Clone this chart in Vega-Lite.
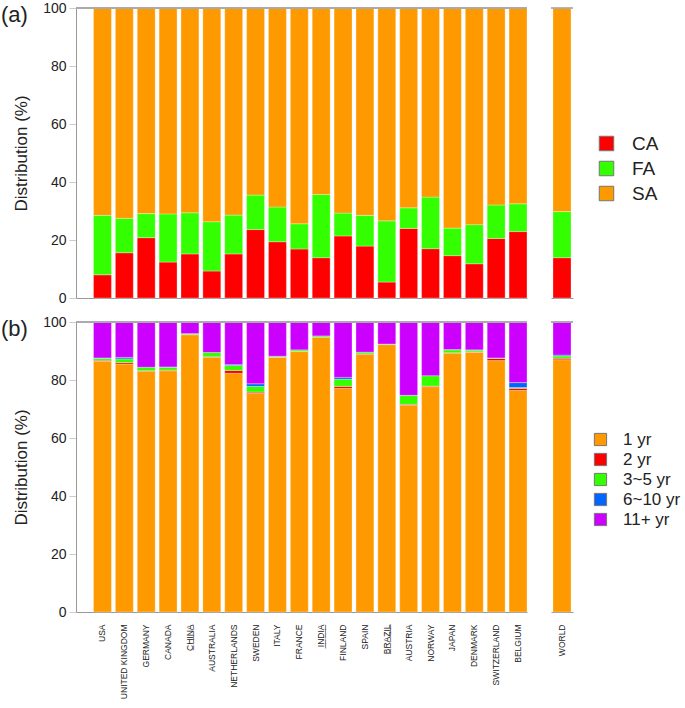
{
  "$schema": "https://vega.github.io/schema/vega-lite/v6.json",
  "padding": {"left": 1, "top": 1, "right": 2, "bottom": 2},
  "config": {
    "font": "Liberation Sans",
    "view": {"stroke": null},
    "axis": {"domainColor": "#999999", "tickColor": "#cccccc", "labelColor": "#222222", "titleColor": "#222222", "grid": false},
    "legend": {"labelColor": "#222222"}
  },
  "datasets": {
    "ranks": [
      {"years": "1 yr", "k": 1}, {"years": "2 yr", "k": 2}, {"years": "3~5 yr", "k": 3}, {"years": "6~10 yr", "k": 4}, {"years": "11+ yr", "k": 5}
    ],
    "a": [
      {"country": "USA", "type": "CA", "value": 8.0}, {"country": "USA", "type": "FA", "value": 20.5}, {"country": "USA", "type": "SA", "value": 71.5},
      {"country": "UNITED KINGDOM", "type": "CA", "value": 15.6}, {"country": "UNITED KINGDOM", "type": "FA", "value": 11.9}, {"country": "UNITED KINGDOM", "type": "SA", "value": 72.5},
      {"country": "GERMANY", "type": "CA", "value": 20.8}, {"country": "GERMANY", "type": "FA", "value": 8.3}, {"country": "GERMANY", "type": "SA", "value": 70.9},
      {"country": "CANADA", "type": "CA", "value": 12.4}, {"country": "CANADA", "type": "FA", "value": 16.6}, {"country": "CANADA", "type": "SA", "value": 71.0},
      {"country": "CHINA", "type": "CA", "value": 15.2}, {"country": "CHINA", "type": "FA", "value": 14.2}, {"country": "CHINA", "type": "SA", "value": 70.6},
      {"country": "AUSTRALIA", "type": "CA", "value": 9.3}, {"country": "AUSTRALIA", "type": "FA", "value": 17.0}, {"country": "AUSTRALIA", "type": "SA", "value": 73.7},
      {"country": "NETHERLANDS", "type": "CA", "value": 15.2}, {"country": "NETHERLANDS", "type": "FA", "value": 13.4}, {"country": "NETHERLANDS", "type": "SA", "value": 71.4},
      {"country": "SWEDEN", "type": "CA", "value": 23.6}, {"country": "SWEDEN", "type": "FA", "value": 11.9}, {"country": "SWEDEN", "type": "SA", "value": 64.5},
      {"country": "ITALY", "type": "CA", "value": 19.4}, {"country": "ITALY", "type": "FA", "value": 12.0}, {"country": "ITALY", "type": "SA", "value": 68.6},
      {"country": "FRANCE", "type": "CA", "value": 16.9}, {"country": "FRANCE", "type": "FA", "value": 8.7}, {"country": "FRANCE", "type": "SA", "value": 74.4},
      {"country": "INDIA", "type": "CA", "value": 13.9}, {"country": "INDIA", "type": "FA", "value": 21.8}, {"country": "INDIA", "type": "SA", "value": 64.3},
      {"country": "FINLAND", "type": "CA", "value": 21.4}, {"country": "FINLAND", "type": "FA", "value": 7.9}, {"country": "FINLAND", "type": "SA", "value": 70.7},
      {"country": "SPAIN", "type": "CA", "value": 17.9}, {"country": "SPAIN", "type": "FA", "value": 10.6}, {"country": "SPAIN", "type": "SA", "value": 71.5},
      {"country": "BRAZIL", "type": "CA", "value": 5.5}, {"country": "BRAZIL", "type": "FA", "value": 21.1}, {"country": "BRAZIL", "type": "SA", "value": 73.4},
      {"country": "AUSTRIA", "type": "CA", "value": 24.0}, {"country": "AUSTRIA", "type": "FA", "value": 7.1}, {"country": "AUSTRIA", "type": "SA", "value": 68.9},
      {"country": "NORWAY", "type": "CA", "value": 17.0}, {"country": "NORWAY", "type": "FA", "value": 17.8}, {"country": "NORWAY", "type": "SA", "value": 65.2},
      {"country": "JAPAN", "type": "CA", "value": 14.6}, {"country": "JAPAN", "type": "FA", "value": 9.5}, {"country": "JAPAN", "type": "SA", "value": 75.9},
      {"country": "DENMARK", "type": "CA", "value": 11.8}, {"country": "DENMARK", "type": "FA", "value": 13.5}, {"country": "DENMARK", "type": "SA", "value": 74.7},
      {"country": "SWITZERLAND", "type": "CA", "value": 20.5}, {"country": "SWITZERLAND", "type": "FA", "value": 11.6}, {"country": "SWITZERLAND", "type": "SA", "value": 67.9},
      {"country": "BELGIUM", "type": "CA", "value": 22.9}, {"country": "BELGIUM", "type": "FA", "value": 9.6}, {"country": "BELGIUM", "type": "SA", "value": 67.5},
      {"country": "WORLD", "type": "CA", "value": 13.9}, {"country": "WORLD", "type": "FA", "value": 15.9}, {"country": "WORLD", "type": "SA", "value": 70.2}
    ],
    "b": [
      {"country": "USA", "years": "1 yr", "value": 86.5}, {"country": "USA", "years": "2 yr", "value": 0.3}, {"country": "USA", "years": "3~5 yr", "value": 0.7}, {"country": "USA", "years": "6~10 yr", "value": 0.1}, {"country": "USA", "years": "11+ yr", "value": 12.4},
      {"country": "UNITED KINGDOM", "years": "1 yr", "value": 85.5}, {"country": "UNITED KINGDOM", "years": "2 yr", "value": 0.5}, {"country": "UNITED KINGDOM", "years": "3~5 yr", "value": 1.3}, {"country": "UNITED KINGDOM", "years": "6~10 yr", "value": 0.5}, {"country": "UNITED KINGDOM", "years": "11+ yr", "value": 12.2},
      {"country": "GERMANY", "years": "1 yr", "value": 83.0}, {"country": "GERMANY", "years": "2 yr", "value": 0.2}, {"country": "GERMANY", "years": "3~5 yr", "value": 1.2}, {"country": "GERMANY", "years": "11+ yr", "value": 15.6},
      {"country": "CANADA", "years": "1 yr", "value": 83.2}, {"country": "CANADA", "years": "2 yr", "value": 0.2}, {"country": "CANADA", "years": "3~5 yr", "value": 1.0}, {"country": "CANADA", "years": "6~10 yr", "value": 0.1}, {"country": "CANADA", "years": "11+ yr", "value": 15.5},
      {"country": "CHINA", "years": "1 yr", "value": 95.6}, {"country": "CHINA", "years": "2 yr", "value": 0.1}, {"country": "CHINA", "years": "3~5 yr", "value": 0.3}, {"country": "CHINA", "years": "11+ yr", "value": 4.0},
      {"country": "AUSTRALIA", "years": "1 yr", "value": 87.8}, {"country": "AUSTRALIA", "years": "2 yr", "value": 0.2}, {"country": "AUSTRALIA", "years": "3~5 yr", "value": 1.5}, {"country": "AUSTRALIA", "years": "11+ yr", "value": 10.5},
      {"country": "NETHERLANDS", "years": "1 yr", "value": 82.3}, {"country": "NETHERLANDS", "years": "2 yr", "value": 1.0}, {"country": "NETHERLANDS", "years": "3~5 yr", "value": 1.7}, {"country": "NETHERLANDS", "years": "6~10 yr", "value": 0.3}, {"country": "NETHERLANDS", "years": "11+ yr", "value": 14.7},
      {"country": "SWEDEN", "years": "1 yr", "value": 75.4}, {"country": "SWEDEN", "years": "2 yr", "value": 0.4}, {"country": "SWEDEN", "years": "3~5 yr", "value": 2.0}, {"country": "SWEDEN", "years": "6~10 yr", "value": 0.9}, {"country": "SWEDEN", "years": "11+ yr", "value": 21.3},
      {"country": "ITALY", "years": "1 yr", "value": 87.8}, {"country": "ITALY", "years": "2 yr", "value": 0.1}, {"country": "ITALY", "years": "3~5 yr", "value": 0.3}, {"country": "ITALY", "years": "11+ yr", "value": 11.8},
      {"country": "FRANCE", "years": "1 yr", "value": 89.8}, {"country": "FRANCE", "years": "2 yr", "value": 0.1}, {"country": "FRANCE", "years": "3~5 yr", "value": 0.5}, {"country": "FRANCE", "years": "11+ yr", "value": 9.6},
      {"country": "INDIA", "years": "1 yr", "value": 94.7}, {"country": "INDIA", "years": "2 yr", "value": 0.1}, {"country": "INDIA", "years": "3~5 yr", "value": 0.4}, {"country": "INDIA", "years": "11+ yr", "value": 4.8},
      {"country": "FINLAND", "years": "1 yr", "value": 77.1}, {"country": "FINLAND", "years": "2 yr", "value": 0.7}, {"country": "FINLAND", "years": "3~5 yr", "value": 2.5}, {"country": "FINLAND", "years": "6~10 yr", "value": 0.6}, {"country": "FINLAND", "years": "11+ yr", "value": 19.1},
      {"country": "SPAIN", "years": "1 yr", "value": 88.8}, {"country": "SPAIN", "years": "2 yr", "value": 0.2}, {"country": "SPAIN", "years": "3~5 yr", "value": 0.6}, {"country": "SPAIN", "years": "11+ yr", "value": 10.4},
      {"country": "BRAZIL", "years": "1 yr", "value": 92.2}, {"country": "BRAZIL", "years": "2 yr", "value": 0.1}, {"country": "BRAZIL", "years": "3~5 yr", "value": 0.1}, {"country": "BRAZIL", "years": "11+ yr", "value": 7.6},
      {"country": "AUSTRIA", "years": "1 yr", "value": 71.3}, {"country": "AUSTRIA", "years": "2 yr", "value": 0.3}, {"country": "AUSTRIA", "years": "3~5 yr", "value": 3.1}, {"country": "AUSTRIA", "years": "11+ yr", "value": 25.3},
      {"country": "NORWAY", "years": "1 yr", "value": 77.7}, {"country": "NORWAY", "years": "2 yr", "value": 0.2}, {"country": "NORWAY", "years": "3~5 yr", "value": 3.6}, {"country": "NORWAY", "years": "11+ yr", "value": 18.5},
      {"country": "JAPAN", "years": "1 yr", "value": 89.3}, {"country": "JAPAN", "years": "2 yr", "value": 0.1}, {"country": "JAPAN", "years": "3~5 yr", "value": 1.0}, {"country": "JAPAN", "years": "6~10 yr", "value": 0.1}, {"country": "JAPAN", "years": "11+ yr", "value": 9.5},
      {"country": "DENMARK", "years": "1 yr", "value": 89.6}, {"country": "DENMARK", "years": "2 yr", "value": 0.1}, {"country": "DENMARK", "years": "3~5 yr", "value": 0.6}, {"country": "DENMARK", "years": "6~10 yr", "value": 0.1}, {"country": "DENMARK", "years": "11+ yr", "value": 9.6},
      {"country": "SWITZERLAND", "years": "1 yr", "value": 86.7}, {"country": "SWITZERLAND", "years": "2 yr", "value": 0.7}, {"country": "SWITZERLAND", "years": "3~5 yr", "value": 0.2}, {"country": "SWITZERLAND", "years": "11+ yr", "value": 12.4},
      {"country": "BELGIUM", "years": "1 yr", "value": 76.4}, {"country": "BELGIUM", "years": "2 yr", "value": 0.7}, {"country": "BELGIUM", "years": "3~5 yr", "value": 0.3}, {"country": "BELGIUM", "years": "6~10 yr", "value": 1.7}, {"country": "BELGIUM", "years": "11+ yr", "value": 20.9},
      {"country": "WORLD", "years": "1 yr", "value": 87.0}, {"country": "WORLD", "years": "2 yr", "value": 0.5}, {"country": "WORLD", "years": "3~5 yr", "value": 0.8}, {"country": "WORLD", "years": "6~10 yr", "value": 0.3}, {"country": "WORLD", "years": "11+ yr", "value": 11.4}
    ]
  },
  "spacing": 10,
  "resolve": {"scale": {"color": "independent"}, "legend": {"color": "independent"}},
  "vconcat": [
    {
      "spacing": 22,
      "hconcat": [
        {
          "width": 451, "height": 290,
          "data": {"name": "a"},
          "transform": [{"filter": "datum.country != 'WORLD'"}],
          "title": {"text": "(a)", "anchor": "start", "frame": "group", "fontSize": 22, "fontWeight": "normal", "color": "#222222", "baseline": "top", "dx": -75, "dy": 26, "offset": 0},
          "layer": [
            {
              "mark": {"type": "bar", "stroke": "#ffffff", "strokeWidth": 0.5, "strokeOpacity": 0.6},
              "encoding": {
                "x": {"field": "country", "type": "nominal", "sort": null, "scale": {"paddingInner": 0.18, "paddingOuter": 0.4, "align": 1}, "axis": {"labels": false, "ticks": false, "title": null}},
                "y": {"field": "value", "type": "quantitative", "stack": "zero", "scale": {"domain": [0, 100], "nice": false}, "axis": {"title": "Distribution (%)", "values": [0, 20, 40, 60, 80, 100], "labelFontSize": 14, "titleFontSize": 17, "titleFontWeight": "normal", "tickSize": 7, "labelPadding": 3, "titlePadding": 12}},
                "order": {"field": "type", "sort": "ascending"},
                "color": {"field": "type", "type": "nominal", "scale": {"domain": ["CA", "FA", "SA"], "range": ["#FF0000", "#33FF00", "#FF9900"]},
                  "legend": {"title": null, "orient": "none", "legendX": 521, "legendY": 126, "labelFontSize": 19, "symbolType": "square", "symbolSize": 210, "symbolStrokeColor": "#777777", "symbolStrokeWidth": 1, "rowPadding": 5, "labelOffset": 16, "padding": 0}}
              }
            },
            {"mark": {"type": "rule", "color": "#aaaaaa"}, "encoding": {"y": {"datum": 100}}}
          ]
        },
        {
          "width": 22, "height": 290,
          "data": {"name": "a"},
          "transform": [{"filter": "datum.country == 'WORLD'"}],
          "layer": [
            {
              "mark": {"type": "bar", "stroke": "#ffffff", "strokeWidth": 0.5, "strokeOpacity": 0.6},
              "encoding": {
                "x": {"field": "country", "type": "nominal", "scale": {"paddingInner": 0.18, "paddingOuter": 0.09}, "axis": {"labels": false, "ticks": false, "title": null}},
                "y": {"field": "value", "type": "quantitative", "stack": "zero", "scale": {"domain": [0, 100], "nice": false}, "axis": null},
                "order": {"field": "type", "sort": "ascending"},
                "color": {"field": "type", "type": "nominal", "scale": {"domain": ["CA", "FA", "SA"], "range": ["#FF0000", "#33FF00", "#FF9900"]},
                  "legend": {"title": null, "orient": "none", "legendX": 521, "legendY": 126, "labelFontSize": 19, "symbolType": "square", "symbolSize": 210, "symbolStrokeColor": "#777777", "symbolStrokeWidth": 1, "rowPadding": 5, "labelOffset": 16, "padding": 0}}
              }
            },
            {"mark": {"type": "rule", "color": "#aaaaaa"}, "encoding": {"y": {"datum": 100}}}
          ]
        }
      ]
    },
    {
      "spacing": 22,
      "hconcat": [
        {
          "width": 451, "height": 290,
          "data": {"name": "b"},
          "transform": [{"filter": "datum.country != 'WORLD'"}, {"lookup": "years", "from": {"data": {"name": "ranks"}, "key": "years", "fields": ["k"]}}],
          "title": {"text": "(b)", "anchor": "start", "frame": "group", "fontSize": 22, "fontWeight": "normal", "color": "#222222", "baseline": "top", "dx": -75, "dy": 26, "offset": 0},
          "layer": [
            {
              "mark": {"type": "bar", "stroke": "#ffffff", "strokeWidth": 0.5, "strokeOpacity": 0.6},
              "encoding": {
                "x": {"field": "country", "type": "nominal", "sort": null, "scale": {"paddingInner": 0.18, "paddingOuter": 0.4, "align": 1},
                  "axis": {"title": null, "ticks": false, "labelAngle": 270, "labelFontSize": 8.5, "labelPadding": 12, "labelColor": "#222222",
                    "labelExpr": "datum.value == 'CHINA' ? 'C\u0332H\u0332I\u0332N\u0332A\u0332' : datum.value == 'INDIA' ? 'I\u0332N\u0332D\u0332I\u0332A\u0332' : datum.value == 'BRAZIL' ? 'B\u0332R\u0332A\u0332Z\u0332I\u0332L\u0332' : datum.value"}},
                "y": {"field": "value", "type": "quantitative", "stack": "zero", "scale": {"domain": [0, 100], "nice": false}, "axis": {"title": "Distribution (%)", "values": [0, 20, 40, 60, 80, 100], "labelFontSize": 14, "titleFontSize": 17, "titleFontWeight": "normal", "tickSize": 7, "labelPadding": 3, "titlePadding": 12}},
                "order": {"field": "k", "sort": "ascending"},
                "color": {"field": "years", "type": "nominal", "scale": {"domain": ["1 yr", "2 yr", "3~5 yr", "6~10 yr", "11+ yr"], "range": ["#FF9900", "#FF0000", "#33FF00", "#0066FF", "#CC00FF"]},
                  "legend": {"title": null, "orient": "none", "legendX": 516, "legendY": 109, "labelFontSize": 17, "symbolType": "square", "symbolSize": 150, "symbolStrokeColor": "#777777", "symbolStrokeWidth": 1, "rowPadding": 2, "labelOffset": 14, "padding": 0}}
              }
            },
            {"mark": {"type": "rule", "color": "#aaaaaa"}, "encoding": {"y": {"datum": 100}}}
          ]
        },
        {
          "width": 22, "height": 290,
          "data": {"name": "b"},
          "transform": [{"filter": "datum.country == 'WORLD'"}, {"lookup": "years", "from": {"data": {"name": "ranks"}, "key": "years", "fields": ["k"]}}],
          "layer": [
            {
              "mark": {"type": "bar", "stroke": "#ffffff", "strokeWidth": 0.5, "strokeOpacity": 0.6},
              "encoding": {
                "x": {"field": "country", "type": "nominal", "scale": {"paddingInner": 0.18, "paddingOuter": 0.09}, "axis": {"title": null, "ticks": false, "labelAngle": 270, "labelFontSize": 8.5, "labelPadding": 12, "labelColor": "#222222"}},
                "y": {"field": "value", "type": "quantitative", "stack": "zero", "scale": {"domain": [0, 100], "nice": false}, "axis": null},
                "order": {"field": "k", "sort": "ascending"},
                "color": {"field": "years", "type": "nominal", "scale": {"domain": ["1 yr", "2 yr", "3~5 yr", "6~10 yr", "11+ yr"], "range": ["#FF9900", "#FF0000", "#33FF00", "#0066FF", "#CC00FF"]},
                  "legend": {"title": null, "orient": "none", "legendX": 516, "legendY": 109, "labelFontSize": 17, "symbolType": "square", "symbolSize": 150, "symbolStrokeColor": "#777777", "symbolStrokeWidth": 1, "rowPadding": 2, "labelOffset": 14, "padding": 0}}
              }
            },
            {"mark": {"type": "rule", "color": "#aaaaaa"}, "encoding": {"y": {"datum": 100}}}
          ]
        }
      ]
    }
  ]
}
